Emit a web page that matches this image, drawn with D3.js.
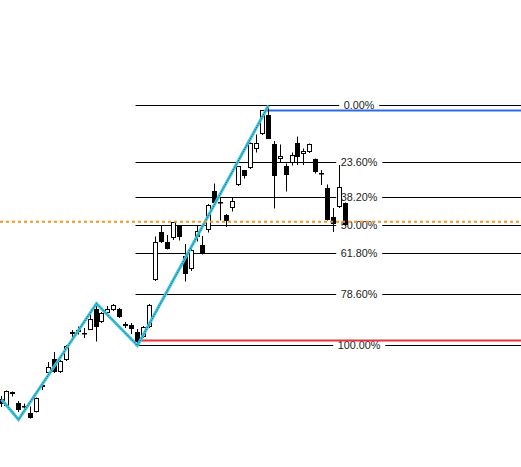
<!DOCTYPE html>
<html>
<head>
<meta charset="utf-8">
<script src="https://cdn.jsdelivr.net/npm/d3@7"></script>
<style>
  html, body { margin: 0; padding: 0; background: #ffffff; }
  svg { display: block; }
</style>
</head>
<body>
<svg id="chart" width="521" height="467"></svg>
<script>
// ---- data ----
const categories = Array.from({ length: 59 }, (_, i) => "bar" + (i + 1));
const open  = [100.5, 94.5, 108, 96.5, 94.5, 87.5, 88, 114.5, 127, 141, 128, 140, 167, 169, 167.5, 170.5, 191, 178, 187, 190, 191, 176, 175, 168, 163, 173, 220, 268, 258, 261, 274.5, 244, 230.5, 262.5, 255, 269.5, 309, 298.5, 285, 291.5, 315, 329.5, 331.5, 351.5, 365.5, 385, 356.5, 340.5, 334, 336.5, 357, 346.5, 347.5, 341, 327.5, 312.5, 283.5, 292.5, 297];
const high  = [104, 109.5, 108.5, 99, 96.5, 93.5, 102.5, 118, 138, 148, 140, 155, 170, 173.5, 172, 188, 196.5, 188, 194, 196, 192, 178, 177, 171, 174, 196, 263.5, 275, 265, 278, 275, 256, 251, 275, 264, 296, 316.5, 302.5, 286, 302.5, 334, 330, 357.5, 365.5, 389.5, 394.5, 359, 355.5, 336.5, 347.5, 363.5, 351.5, 356.5, 341.5, 330, 315.5, 292, 335, 297.5];
const low   = [93, 94, 103.5, 88, 88, 81.5, 87.5, 110, 124.5, 127, 127, 139, 162, 165.5, 162, 170, 158.5, 177, 184, 189, 182, 172, 166, 154.5, 162, 172, 219, 257, 250.5, 260, 259.5, 218.5, 229, 258.5, 245.5, 267.5, 295, 279.5, 273, 288.5, 314, 321.5, 331, 347.5, 365, 361, 291.5, 338, 308.5, 334.5, 335, 335, 347, 326.5, 315, 279.5, 268, 292, 274.5];
const close = [96, 109, 106, 89.5, 94, 83, 101.5, 115, 133, 128, 139, 154, 167.5, 169.5, 167, 181, 173, 187, 191, 195, 183, 174, 171, 158, 173, 195, 258, 258, 251, 277, 263, 225.5, 250, 268, 246, 295, 297, 298, 279, 298.5, 333.5, 324, 356.5, 357, 389, 361.5, 324, 344, 325.5, 345, 342.5, 349, 355.5, 328, 327, 280, 276, 312.5, 275];

const zigzagIndex = [0, 3, 16, 23, 45];
const zigzagPrice = [100.5, 80.5, 196.5, 154.5, 394.5];

const fibLevels = [0, 23.6, 38.2, 50, 61.8, 78.6, 100];
const fibHigh = 394.5;
const fibLow = 154.5;
const fibStartIndex = 23;

const highCloseLevel = 389.5;   // blue line
const highCloseIndex = 44;
const lowCloseLevel = 159.5;    // red line
const lowCloseIndex = 23;
const currentPrice = 278.3;     // orange dotted line

// ---- layout ----
const W = 521, H = 467;
const svg = d3.select("#chart");

const x = d3.scalePoint().domain(categories).range([0.5, 345]);
const y = d3.scaleLinear().domain([0, 500]).range([500, 0]);
const crisp = v => Math.round(v - 0.5) + 0.5;
const px = i => Math.round(x(categories[i]));

// fib lines
const fibStartX = px(fibStartIndex) - 1.5;
const labelX = 359;
const gFib = svg.append("g");
fibLevels.forEach(l => {
  const price = fibHigh - (fibHigh - fibLow) * l / 100;
  const yy = crisp(y(price));
  gFib.append("line")
    .attr("x1", fibStartX).attr("x2", W)
    .attr("y1", yy).attr("y2", yy)
    .attr("stroke", "#000").attr("stroke-width", 1);
  const t = gFib.append("text")
    .attr("x", labelX).attr("y", yy + 3.9)
    .attr("text-anchor", "middle")
    .attr("font-family", "Liberation Sans, Arial, sans-serif")
    .attr("font-size", "10.8px")
    .attr("fill", "#222")
    .text(l.toFixed(2) + "%");
  const bb = t.node().getBBox();
  gFib.insert("rect", () => t.node())
    .attr("x", bb.x - 4.5).attr("width", bb.width + 9)
    .attr("y", yy - 3).attr("height", 6)
    .attr("fill", "#fff");
});

// blue & red level lines
svg.append("line")
  .attr("x1", px(highCloseIndex) + 3).attr("x2", W)
  .attr("y1", y(highCloseLevel)).attr("y2", y(highCloseLevel))
  .attr("stroke", "#2d6be6").attr("stroke-width", 2);
svg.append("line")
  .attr("x1", px(lowCloseIndex)).attr("x2", W)
  .attr("y1", y(lowCloseLevel)).attr("y2", y(lowCloseLevel))
  .attr("stroke", "#e8333f").attr("stroke-width", 2);

// candles
const gC = svg.append("g");
categories.forEach((c, i) => {
  const cx = px(i);
  const up = close[i] > open[i];
  gC.append("line")
    .attr("x1", cx + 0.5).attr("x2", cx + 0.5)
    .attr("y1", y(high[i])).attr("y2", y(low[i]))
    .attr("stroke", "#000").attr("stroke-width", 1);
  const top = y(Math.max(open[i], close[i]));
  const bot = y(Math.min(open[i], close[i]));
  if (up) {
    gC.append("rect")
      .attr("x", cx - 1.5).attr("width", 4)
      .attr("y", crisp(top)).attr("height", Math.max(1, Math.round(bot - top) - 1))
      .attr("fill", "#fff").attr("stroke", "#000").attr("stroke-width", 1);
  } else {
    gC.append("rect")
      .attr("x", cx - 2).attr("width", 5)
      .attr("y", Math.round(top)).attr("height", Math.max(1.5, Math.round(bot - top)))
      .attr("fill", "#000");
  }
});

// zigzag
const zz = zigzagIndex.map((idx, k) => [px(idx) + 0.5, y(zigzagPrice[k])]);
const lineGen = d3.line();
svg.append("path").attr("d", lineGen(zz))
  .attr("fill", "none").attr("stroke", "#3cc4dc").attr("stroke-width", 3)
  .attr("stroke-linejoin", "miter");
svg.append("path").attr("d", lineGen(zz))
  .attr("fill", "none").attr("stroke", "#0f6476").attr("stroke-width", 1)
  .attr("stroke-dasharray", "1,1.5");

// current price dotted line
svg.append("line")
  .attr("x1", 0).attr("x2", W)
  .attr("y1", y(currentPrice)).attr("y2", y(currentPrice))
  .attr("stroke", "#f7931e").attr("stroke-width", 2)
  .attr("stroke-dasharray", "3,3");
</script>
</body>
</html>
